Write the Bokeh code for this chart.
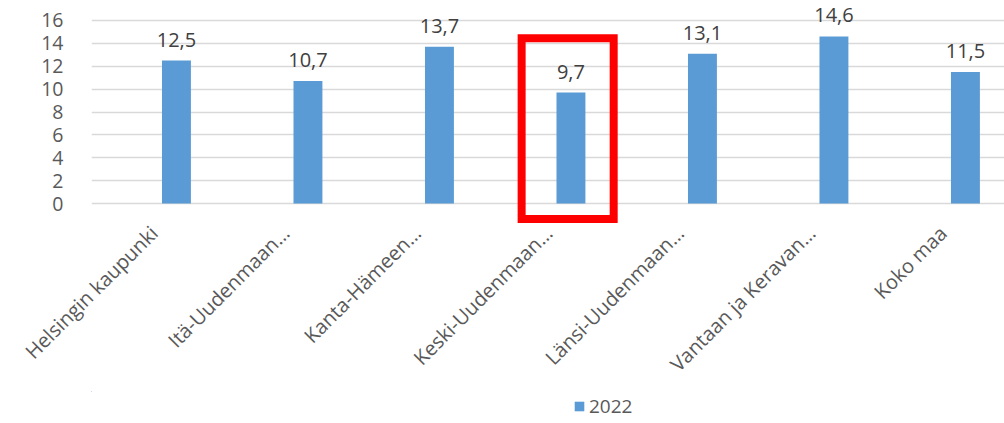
from bokeh.plotting import figure
from bokeh.layouts import column
from bokeh.models import (ColumnDataSource, FixedTicker, Range1d, LabelSet,
                          BoxAnnotation, Legend, LegendItem, LinearAxis)
from bokeh.core.properties import value
from bokeh.embed import file_html
from bokeh.resources import INLINE

categories = ["Helsingin kaupunki", "Itä-Uudenmaan…", "Kanta-Hämeen…",
              "Keski-Uudenmaan…", "Länsi-Uudenmaan…", "Vantaan ja Keravan…", "Koko maa"]
values_2022 = [12.5, 10.7, 13.7, 9.7, 13.1, 14.6, 11.5]
value_labels = ["12,5", "10,7", "13,7", "9,7", "13,1", "14,6", "11,5"]
series_name = "2022"
y_ticks = [0, 2, 4, 6, 8, 10, 12, 14, 16]
highlight_index = 3

FONT = "Open Sans"
BAR = "#5B9BD5"
BAR_WIDTH = 0.22
X0, X1 = -0.646, 6.297
LABEL_SHIFT = 0.17  # rotated category labels end slightly left of their bar

xs = list(range(len(categories)))
src = ColumnDataSource(dict(x=xs, top=values_2022, lab=value_labels))

p = figure(width=1004, height=391, output_backend="svg", toolbar_location=None,
           x_range=Range1d(X0, X1), y_range=Range1d(-1.745, 17.745),
           x_axis_location=None,
           min_border_left=91, min_border_right=0, min_border_top=0,
           min_border_bottom=168)
p.outline_line_color = None
p.background_fill_color = "white"
p.border_fill_color = "white"

r = p.vbar(x="x", top="top", bottom=0, width=BAR_WIDTH, source=src,
           fill_color=BAR, line_color=None)

# y axis
p.yaxis.ticker = FixedTicker(ticks=y_ticks)
p.yaxis.axis_line_color = None
p.yaxis.major_tick_line_color = None
p.yaxis.minor_tick_line_color = None
p.yaxis.major_label_standoff = 22
p.yaxis.major_label_text_font = FONT
p.yaxis.major_label_text_font_size = "19.5px"
p.yaxis.major_label_text_color = "#595959"

# category axis
p.extra_x_ranges = {"cat": Range1d(X0 + LABEL_SHIFT, X1 + LABEL_SHIFT)}
xaxis = LinearAxis(x_range_name="cat", ticker=FixedTicker(ticks=xs),
                   major_label_overrides={i: c for i, c in enumerate(categories)},
                   major_label_orientation=0.785398,
                   axis_line_color=None, major_tick_line_color=None,
                   minor_tick_line_color=None, major_label_standoff=0,
                   major_label_text_font=FONT, major_label_text_font_size="20px",
                   major_label_text_color="#595959")
p.add_layout(xaxis, "below")

p.xgrid.visible = False
p.ygrid.ticker = FixedTicker(ticks=y_ticks)
p.ygrid.grid_line_color = "#D9D9D9"
p.ygrid.grid_line_width = 1.5

labels = LabelSet(x="x", y="top", text="lab", source=src, text_align="center",
                  text_baseline="alphabetic", y_offset=14, text_font=value(FONT),
                  text_font_size=value("20px"), text_color=value("#404040"))
p.add_layout(labels)

box = BoxAnnotation(left=highlight_index - 0.375, right=highlight_index + 0.325,
                    top=14.44, bottom=-1.35, fill_color=None, fill_alpha=0,
                    line_color="#FF0000", line_alpha=1.0, line_width=8,
                    line_join="miter")
p.add_layout(box)

# legend strip below the chart (its renderer's bars fall far outside this strip's ranges)
p2 = figure(width=1004, height=32, output_backend="svg", toolbar_location=None,
            x_range=Range1d(100, 101), y_range=Range1d(-300, -299),
            min_border_left=0, min_border_right=0, min_border_top=0,
            min_border_bottom=0)
p2.axis.visible = False
p2.grid.visible = False
p2.outline_line_color = None
proxy = p2.vbar(x="x", top="top", bottom=0, width=BAR_WIDTH, source=src,
                fill_color=BAR, line_color=None)
legend = Legend(items=[LegendItem(label=series_name, renderers=[proxy])],
                location=(482, 4), orientation="horizontal",
                glyph_width=12, glyph_height=12, label_standoff=4,
                label_text_font=FONT, label_text_font_size="19px",
                label_text_color="#595959", padding=0, margin=0,
                border_line_color=None, background_fill_alpha=0,
                label_height=20)
p2.add_layout(legend, "center")

layout = column(p, p2, spacing=0)
open("out.html", "w").write(file_html(layout, INLINE))
